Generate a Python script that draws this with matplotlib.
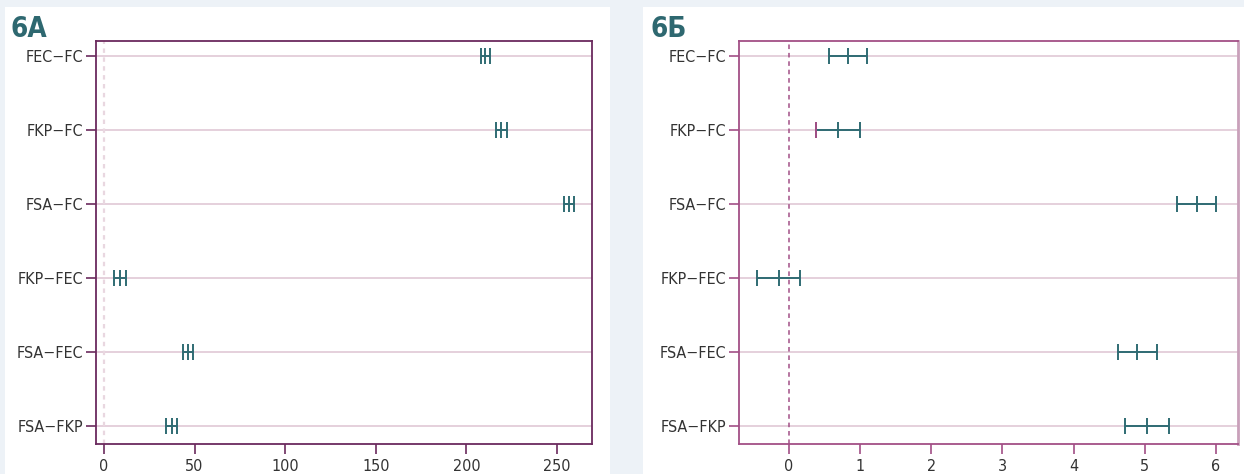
import matplotlib
matplotlib.use("Agg")
import matplotlib.pyplot as plt
from matplotlib import font_manager as fm
from matplotlib.patches import Rectangle

# ---- data ----
comparisons = ["FEC−FC", "FKP−FC", "FSA−FC", "FKP−FEC", "FSA−FEC", "FSA−FKP"]

a_diff = [210.5, 219.1, 256.8, 8.8, 46.2, 37.4]
a_lwr = [208.0, 216.2, 253.9, 5.7, 43.4, 34.2]
a_upr = [213.0, 222.6, 259.5, 12.0, 48.9, 40.5]
a_ticks = [0, 50, 100, 150, 200, 250]

b_diff = [0.825, 0.693, 5.74, -0.145, 4.894, 5.030]
b_lwr = [0.558, 0.384, 5.46, -0.454, 4.618, 4.717]
b_upr = [1.092, 0.998, 6.00, 0.159, 5.171, 5.344]
b_ticks = [0, 1, 2, 3, 4, 5, 6]
b_highlight_lower = [False, True, False, False, False, False]

titles = ["6А", "6Б"]

# ---- fonts: prefer a condensed sans if one is installed ----
cond_reg = None
cond_bold = None
for f in fm.fontManager.ttflist:
    st = str(f.stretch).lower()
    nm = f.name.lower()
    is_cond = ("condensed" in st or "narrow" in nm or "condensed" in nm
               or (isinstance(f.stretch, int) and f.stretch < 500))
    if not is_cond:
        continue
    if "sans" not in nm and "roboto" not in nm and "arial" not in nm:
        continue
    w = f.weight if isinstance(f.weight, int) else (700 if "bold" in str(f.weight) else 400)
    if w >= 600 and f.style == "normal" and cond_bold is None:
        cond_bold = f.fname
    if w < 600 and f.style == "normal" and cond_reg is None:
        cond_reg = f.fname

BASE = ["Liberation Sans", "DejaVu Sans"]
plt.rcParams["font.family"] = BASE
reg_fp = fm.FontProperties(fname=cond_reg) if cond_reg else fm.FontProperties(family=BASE)
bold_fp = (fm.FontProperties(fname=cond_bold) if cond_bold
           else fm.FontProperties(family=BASE, weight="bold"))
TICK_SIZE = 11.5 if cond_reg else 11

BG = "#EDF2F7"
TEAL = "#2F6B73"
TITLE_C = "#2E6870"
GRID = "#E3CDD9"
W, H = 1244, 474

fig = plt.figure(figsize=(W / 100, H / 100), dpi=100, facecolor=BG)

# white panels
for x0, x1 in [(5, 610), (643, 1244)]:
    r = Rectangle((x0 / W, 0), (x1 - x0) / W, (474 - 7) / H,
                  transform=fig.transFigure, facecolor="white",
                  edgecolor="none", zorder=-5)
    fig.patches.append(r)


def make_axes(x0, x1, y0, y1):
    ax = fig.add_axes([x0 / W, (H - y1) / H, (x1 - x0) / W, (y1 - y0) / H])
    ax.set_zorder(5)
    return ax


def draw_panel(ax, diff, lwr, upr, ticks, xlim, frame_c, zero_c, zero_ls, zero_lw,
               highlight=None):
    n = len(comparisons)
    ys = list(range(1, n + 1))
    ax.set_facecolor("white")
    for y in ys:
        ax.axhline(y, color=GRID, lw=1.3, zorder=1)
    ax.axvline(0, color=zero_c, ls=zero_ls, lw=zero_lw, zorder=1)
    xerr = [[d - l for d, l in zip(diff, lwr)], [u - d for u, d in zip(upr, diff)]]
    ax.errorbar(diff, ys, xerr=xerr, fmt="|", color=TEAL, ms=11, mew=1.4,
                elinewidth=1.4, capsize=5.5, capthick=1.4, zorder=3)
    if highlight is not None:
        for y, l, h in zip(ys, lwr, highlight):
            if h:
                ax.plot([l], [y], marker="|", ms=11, mew=1.4, color=frame_c,
                        ls="none", zorder=4)
    ax.set_ylim(6.243, 0.797)
    ax.set_xlim(*xlim)
    ax.set_yticks(ys)
    ax.set_yticklabels(comparisons)
    ax.set_xticks(ticks)
    ax.set_xticklabels([str(t) for t in ticks])
    ax.tick_params(axis="both", direction="out", length=7, width=1.2,
                   color=frame_c, labelcolor="#333333", pad=2)
    ax.tick_params(axis="x", pad=4)
    for lab in ax.get_xticklabels() + ax.get_yticklabels():
        lab.set_fontproperties(reg_fp)
        lab.set_fontsize(TICK_SIZE)
    for s in ax.spines.values():
        s.set_color(frame_c)
        s.set_linewidth(1.3)


axA = make_axes(96, 592, 41, 444)
draw_panel(axA, a_diff, a_lwr, a_upr, a_ticks, (-4.4, 269.3),
           "#6B2A5E", "#E9D7E0", (0, (2, 2)), 1.6)

axB = make_axes(739, 1238, 41, 444)
draw_panel(axB, b_diff, b_lwr, b_upr, b_ticks, (-0.70, 6.31),
           "#A24F86", "#A24F86", (0, (3, 2.5)), 1.1, highlight=b_highlight_lower)
axB.spines["right"].set_color("#C9A0BA")
axB.spines["right"].set_linewidth(2)

for xpos, t in [(10, titles[0]), (651, titles[1])]:
    txt = fig.text(xpos / W, 1 - 37 / H, t, color=TITLE_C, ha="left",
                   va="baseline", zorder=6, fontproperties=bold_fp)
    txt.set_fontsize(20 if cond_bold else 20)

fig.savefig("out.png", dpi=100, facecolor=BG)
